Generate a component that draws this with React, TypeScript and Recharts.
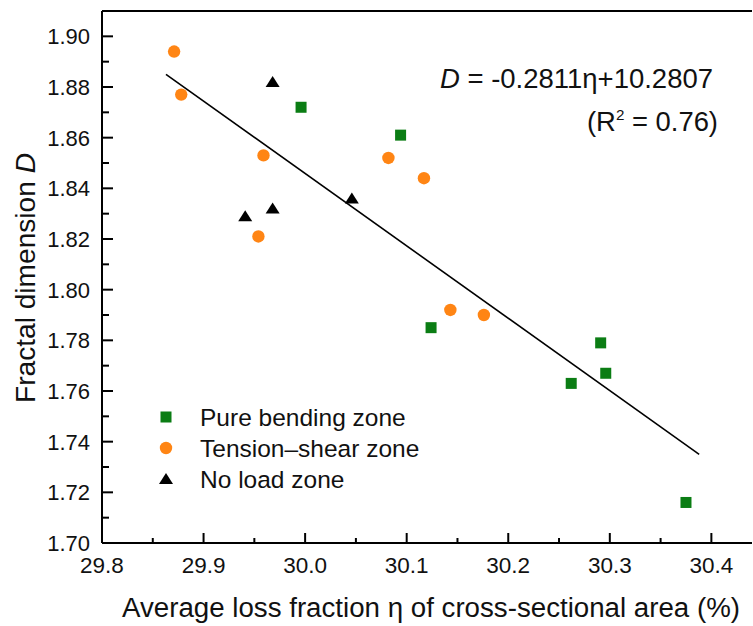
import React from 'react';
import { ScatterChart, Scatter, XAxis, YAxis, ReferenceLine } from 'recharts';

// ---- data ----
const bendingEta = [29.996, 30.094, 30.124, 30.291, 30.262, 30.296, 30.375];
const bendingD = [1.872, 1.861, 1.785, 1.779, 1.763, 1.767, 1.716];

const tensionEta = [29.871, 29.878, 29.959, 29.954, 30.082, 30.117, 30.143, 30.176];
const tensionD = [1.894, 1.877, 1.853, 1.821, 1.852, 1.844, 1.792, 1.790];

const noLoadEta = [29.968, 29.941, 29.968, 30.046];
const noLoadD = [1.882, 1.829, 1.832, 1.836];

const fitEta = [29.863, 30.388];
const fitD = [1.885, 1.735];

const xMajorTicks = [29.8, 29.9, 30.0, 30.1, 30.2, 30.3, 30.4];
const xMinorTicks = [29.85, 29.95, 30.05, 30.15, 30.25, 30.35];
const yMajorTicks = [1.7, 1.72, 1.74, 1.76, 1.78, 1.8, 1.82, 1.84, 1.86, 1.88, 1.9];
const yMinorTicks = [1.71, 1.73, 1.75, 1.77, 1.79, 1.81, 1.83, 1.85, 1.87, 1.89];

const seriesNames = ['Pure bending zone', 'Tension\u2013shear zone', 'No load zone'];
const xTitle = 'Average loss fraction \u03b7 of cross-sectional area (%)';
const yTitle = 'Fractal dimension ';
const equationText = ' = -0.2811\u03b7+10.2807';

const GREEN = '#0b7d14';
const ORANGE = '#ff8514';
const BLACK = '#000000';
const TEXT = '#111111';
const FONT = '"Liberation Sans", Arial, Helvetica, sans-serif';

const zip = (xs: number[], ys: number[]) => xs.map((x, i) => ({ x, y: ys[i] }));
const bendingData = zip(bendingEta, bendingD);
const tensionData = zip(tensionEta, tensionD);
const noLoadData = zip(noLoadEta, noLoadD);
const fitData = zip(fitEta, fitD);

const near = (arr: number[], v: number) => arr.some((a) => Math.abs(a - v) < 1e-6);

const SquareShape = (p: any) => (
  <rect x={p.cx - 5.5} y={p.cy - 5.5} width={11} height={11} fill={GREEN} />
);
const CircleShape = (p: any) => <circle cx={p.cx} cy={p.cy} r={6.2} fill={ORANGE} />;
const TriangleShape = (p: any) => (
  <polygon
    points={`${p.cx},${p.cy - 6} ${p.cx + 7},${p.cy + 5} ${p.cx - 7},${p.cy + 5}`}
    fill={BLACK}
  />
);
const NoShape = () => <g />;

const XTick = (props: any) => {
  const { x, y, payload } = props;
  const v = payload.value as number;
  const major = near(xMajorTicks, v);
  return (
    <g>
      <line x1={x} x2={x} y1={y} y2={y - (major ? 10 : 5)} stroke={BLACK} strokeWidth={2} />
      {major && (
        <text x={x} y={y + 30} textAnchor="middle" fontFamily={FONT} fontSize={22.5} fill={TEXT}>
          {v.toFixed(1)}
        </text>
      )}
    </g>
  );
};

const YTick = (props: any) => {
  const { x, y, payload } = props;
  const v = payload.value as number;
  const major = near(yMajorTicks, v);
  return (
    <g>
      <line x1={x} x2={x + (major ? 11 : 7)} y1={y} y2={y} stroke={BLACK} strokeWidth={2} />
      {major && (
        <text x={x - 12} y={y + 8} textAnchor="end" fontFamily={FONT} fontSize={22} fill={TEXT}>
          {v.toFixed(2)}
        </text>
      )}
    </g>
  );
};

const legendShapes = [
  (cx: number, cy: number) => <rect x={cx - 5.5} y={cy - 5.5} width={11} height={11} fill={GREEN} />,
  (cx: number, cy: number) => <circle cx={cx} cy={cy} r={6.2} fill={ORANGE} />,
  (cx: number, cy: number) => (
    <polygon points={`${cx},${cy - 6} ${cx + 7},${cy + 5} ${cx - 7},${cy + 5}`} fill={BLACK} />
  ),
];

export default function App() {
  return (
    <div style={{ position: 'absolute', left: 0, top: 0, width: 753, height: 626, background: '#fff' }}>
      <ScatterChart width={753} height={626} margin={{ top: 11, right: 1, bottom: 0, left: 0 }}>
        <XAxis
          type="number"
          dataKey="x"
          domain={[29.8, 30.44]}
          ticks={[...xMajorTicks, ...xMinorTicks].sort((a, b) => a - b)}
          interval={0}
          height={83}
          tickSize={0}
          tickMargin={0}
          tickLine={false}
          axisLine={{ stroke: BLACK, strokeWidth: 2 }}
          tick={<XTick />}
          allowDataOverflow
        />
        <YAxis
          type="number"
          dataKey="y"
          domain={[1.7, 1.91]}
          ticks={[...yMajorTicks, ...yMinorTicks].sort((a, b) => a - b)}
          interval={0}
          width={102}
          tickSize={0}
          tickMargin={0}
          tickLine={false}
          axisLine={{ stroke: BLACK, strokeWidth: 2 }}
          tick={<YTick />}
          allowDataOverflow
        />
        <ReferenceLine y={1.91} stroke={BLACK} strokeWidth={2} ifOverflow="extendDomain" />
        <Scatter
          name="fit"
          data={fitData}
          line={{ stroke: BLACK, strokeWidth: 1.6 }}
          lineType="joint"
          shape={<NoShape />}
          isAnimationActive={false}
        />
        <Scatter name={seriesNames[0]} data={bendingData} shape={<SquareShape />} isAnimationActive={false} />
        <Scatter name={seriesNames[1]} data={tensionData} shape={<CircleShape />} isAnimationActive={false} />
        <Scatter name={seriesNames[2]} data={noLoadData} shape={<TriangleShape />} isAnimationActive={false} />
      </ScatterChart>
      <svg
        width={753}
        height={626}
        style={{ position: 'absolute', left: 0, top: 0, pointerEvents: 'none' }}
      >
        {/* equation */}
        <text x={440} y={88} fontFamily={FONT} fontSize={27} fill={TEXT} textLength={273} lengthAdjust="spacingAndGlyphs">
          <tspan fontStyle="italic">D</tspan>
          {equationText}
        </text>
        <text x={587} y={131} fontFamily={FONT} fontSize={27} fill={TEXT} textLength={131} lengthAdjust="spacingAndGlyphs">
          (R<tspan dy={-11} fontSize={15}>2</tspan>
          <tspan dy={11}> = 0.76)</tspan>
        </text>
        {/* legend */}
        {seriesNames.map((n, i) => (
          <g key={n}>
            {legendShapes[i](166, 417 + i * 31)}
            <text x={200} y={417 + i * 31 + 8.5} fontFamily={FONT} fontSize={24.5} fill={TEXT}>
              {n}
            </text>
          </g>
        ))}
        {/* axis titles */}
        <text x={122} y={617} fontFamily={FONT} fontSize={27} fill={TEXT} textLength={618} lengthAdjust="spacingAndGlyphs">
          {xTitle}
        </text>
        <text
          x={35}
          y={403}
          transform="rotate(-90 35 403)"
          fontFamily={FONT}
          fontSize={27}
          fill={TEXT}
          textLength={250}
          lengthAdjust="spacingAndGlyphs"
        >
          {yTitle}
          <tspan fontStyle="italic">D</tspan>
        </text>
      </svg>
    </div>
  );
}
